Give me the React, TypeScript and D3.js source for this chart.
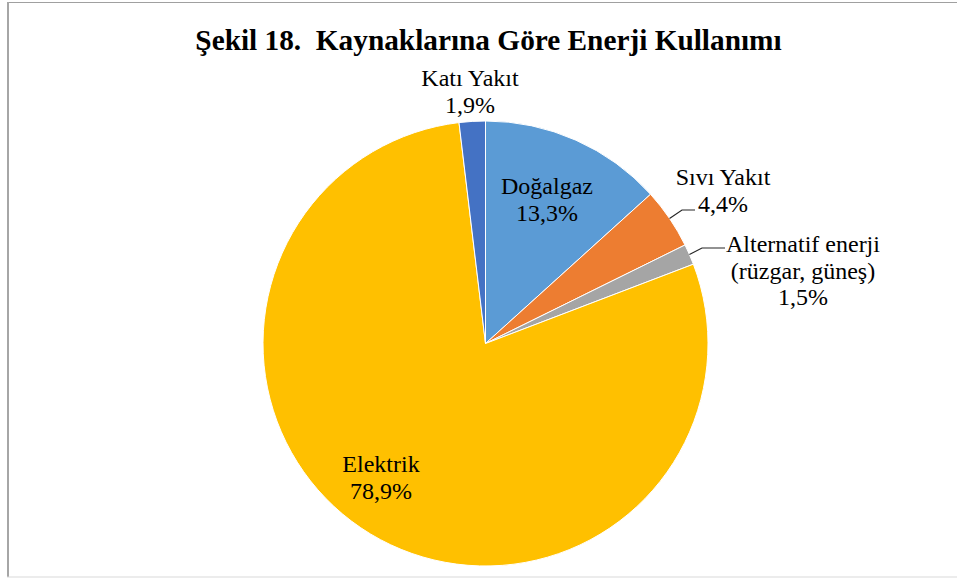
import React from "react";
import * as d3 from "d3";

const categories = ["Doğalgaz", "Sıvı Yakıt", "Alternatif enerji (rüzgar, güneş)", "Elektrik", "Katı Yakıt"];
const values = [13.3, 4.4, 1.5, 78.9, 1.9];
const colors = ["#5B9BD5", "#ED7D31", "#A5A5A5", "#FFC000", "#4472C4"];
const labelLines = [
  ["Doğalgaz", "13,3%"],
  ["Sıvı Yakıt", "4,4%"],
  ["Alternatif enerji", "(rüzgar, güneş)", "1,5%"],
  ["Elektrik", "78,9%"],
  ["Katı Yakıt", "1,9%"],
];
const title = "Şekil 18.  Kaynaklarına Göre Enerji Kullanımı";

const W = 957;
const H = 578;
const cx = 485.5;
const cy = 343.5;
const R = 222.5;
const FONT = "Liberation Serif, Tinos, Times New Roman, DejaVu Serif, serif";

const labelLayout = [
  { x: 547, y: 194, leader: null },
  { x: 723, y: 185, leader: { ex: 682, ey: 210, tx: 695 } },
  { x: 803, y: 252, leader: { ex: 702, ey: 248, tx: 725 } },
  { x: 381, y: 472, leader: null },
  { x: 470, y: 86, leader: null },
];

export default function App() {
  const pie = d3
    .pie<number>()
    .sort(null)
    .value((d) => d)
    .startAngle(0)
    .endAngle(2 * Math.PI);
  const arcs = pie(values);
  const arc = d3.arc<d3.PieArcDatum<number>>().innerRadius(0).outerRadius(R);

  return (
    <svg
      width={W}
      height={H}
      style={{ position: "absolute", left: 0, top: 0, background: "#fff", fontFamily: FONT }}
    >
      <rect x={0} y={0} width={W} height={H} fill="#fff" />
      <line x1={7} y1={2.5} x2={W} y2={2.5} stroke="#a0a0a0" strokeWidth={1} />
      <line x1={8} y1={2} x2={8} y2={577} stroke="#a6a6a6" strokeWidth={2} />
      <line x1={7} y1={577} x2={W} y2={577} stroke="#d9d9d9" strokeWidth={1} />
      <text
        x={488.5}
        y={50}
        textAnchor="middle"
        fill="#000"
        style={{ whiteSpace: "pre", fontFamily: FONT, fontSize: 29.3, fontWeight: "bold" }}
      >
        {title}
      </text>
      <g transform={`translate(${cx},${cy})`}>
        {arcs.map((a, i) => (
          <path key={categories[i]} d={arc(a) || ""} fill={colors[i]} stroke="#fff" strokeWidth={1} />
        ))}
      </g>
      {arcs.map((a, i) => {
        const L = labelLayout[i];
        if (!L.leader) return null;
        const mid = (a.startAngle + a.endAngle) / 2;
        const sx = cx + R * Math.sin(mid);
        const sy = cy - R * Math.cos(mid);
        return (
          <polyline
            key={"l" + i}
            points={`${sx},${sy} ${L.leader.ex},${L.leader.ey} ${L.leader.tx},${L.leader.ey}`}
            fill="none"
            stroke="#262626"
            strokeWidth={1.2}
          />
        );
      })}
      {labelLines.map((lines, i) => (
        <text key={"t" + i} textAnchor="middle" fill="#000" style={{ fontFamily: FONT, fontSize: 24 }}>
          {lines.map((ln, j) => (
            <tspan key={j} x={labelLayout[i].x} y={labelLayout[i].y + j * 26.7}>
              {ln}
            </tspan>
          ))}
        </text>
      ))}
    </svg>
  );
}
